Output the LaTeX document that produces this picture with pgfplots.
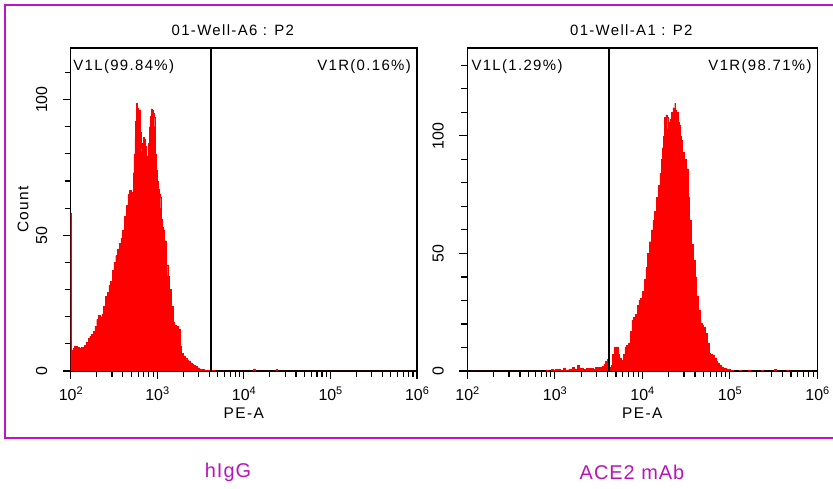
\documentclass[border=0pt]{standalone}
\usepackage{fontspec}
\setmainfont{Liberation Sans}
\newfontfamily\spaced[LetterSpace=9]{Liberation Sans}
\usepackage{pgfplots}
\pgfplotsset{compat=1.18}
\definecolor{mag}{RGB}{190,20,195}
\definecolor{magtext}{RGB}{185,20,185}
\newcommand\tp[1]{10\raisebox{6bp}{\fontsize{11}{11}\selectfont #1}}
\pgfplotsset{flowax/.style={
  scale only axis, height=323bp,
  xmin=2, xmax=6, ymin=0,
  axis line style={line width=1.5pt},
  xtick={2,3,4,5,6},
  xticklabels={\tp{2},\tp{3},\tp{4},\tp{5},\tp{6}},
  minor xtick={2.301,2.477,2.602,2.699,2.778,2.845,2.903,2.954,
               3.301,3.477,3.602,3.699,3.778,3.845,3.903,3.954,
               4.301,4.477,4.602,4.699,4.778,4.845,4.903,4.954,
               5.301,5.477,5.602,5.699,5.778,5.845,5.903,5.954},
  ytick={0,50,100}, yticklabels={0,50,100},
  xtick pos=bottom, ytick pos=left,
  tick align=outside,
  major tick length=8bp, minor tick length=6bp,
  every tick/.style={black, line width=1.1pt},
  tick label style={font=\fontsize{16}{16}\selectfont},
  xticklabel style={anchor=north, yshift=-4bp},
  yticklabel style={rotate=90, anchor=south, yshift=12bp},
  title style={at={(rel axis cs:0.5,1)}, anchor=base, yshift=6.5bp, xshift=-11bp,
    font=\fontsize{15}{15}\selectfont\spaced},
  xlabel={PE-A},
  xlabel style={at={(rel axis cs:0.5,0)}, anchor=center, yshift=-42bp,
    font=\fontsize{15.5}{15.5}\selectfont\spaced},
  clip=true,
}}
\begin{document}
\begin{tikzpicture}
\path[use as bounding box] (0,0) rectangle (833bp,489bp);
\draw[mag, line width=2bp] (4.5bp,51bp) rectangle (850bp,484bp);
\node[magtext, font=\fontsize{20}{20}\selectfont\addfontfeature{LetterSpace=5}] at (228bp,17bp) {hIgG};
\node[magtext, font=\fontsize{20}{20}\selectfont\addfontfeature{LetterSpace=5}] at (632bp,17bp) {ACE2 mAb};

\begin{axis}[flowax, at={(70.7bp,118bp)}, anchor=south west, width=346.3bp,
  ymax=119, minor ytick={10,20,30,40,60,70,80,90,110},
  title={01-Well-A6 : P2},
  ylabel={Count},
  ylabel style={at={(rel axis cs:0,0.5)}, anchor=center, yshift=47.7bp,
    font=\fontsize{15.5}{15.5}\selectfont\spaced}]
\addplot[const plot, fill=red, draw=red, line width=0.3pt] coordinates {
(2.000,58) (2.008,6.5) (2.02,7.5) (2.03,8.5) (2.04,9) (2.06,9.2) (2.08,8.8) (2.10,8.4)
(2.12,8.7) (2.14,8.2) (2.16,9.5) (2.18,10.5) (2.20,12) (2.22,12.8) (2.24,13.5) (2.26,14.5)
(2.28,16.5) (2.30,19) (2.32,20.5) (2.34,20) (2.36,21) (2.38,24) (2.40,27.5) (2.42,29)
(2.44,31.5) (2.46,33) (2.48,37) (2.50,40) (2.52,42.5) (2.54,45) (2.56,47) (2.58,49)
(2.60,52) (2.62,57) (2.64,61) (2.66,65) (2.68,66.5) (2.70,66) (2.72,73) (2.73,80)
(2.74,86) (2.75,92) (2.76,98.5) (2.77,97) (2.78,95) (2.79,96) (2.80,88) (2.81,82)
(2.82,81) (2.83,84) (2.84,86) (2.85,85.5) (2.86,83) (2.87,79) (2.88,77.5) (2.89,80)
(2.90,84) (2.91,90) (2.92,94) (2.93,96.6) (2.94,96) (2.95,95) (2.96,93.5) (2.97,90)
(2.98,80) (2.99,74) (3.00,70) (3.01,67) (3.02,65) (3.03,64) (3.04,60) (3.05,56)
(3.06,53) (3.07,52) (3.08,48) (3.10,39) (3.12,35) (3.14,30) (3.16,24) (3.18,18)
(3.20,17) (3.22,16.5) (3.24,15.5) (3.26,9) (3.28,6.5) (3.30,5.5) (3.32,4.6) (3.34,4)
(3.36,3.5) (3.38,3) (3.40,2.4) (3.42,2) (3.44,1.7) (3.46,1.2) (3.48,0.8) (3.50,0.7)
(3.52,0.5) (3.54,0.4) (3.56,0.3) (3.58,0.4) (3.60,0.3) (3.62,0.2) (3.66,0.1) (3.70,0)
(4.10,0) (4.11,0.8) (4.13,0) (4.36,0) (4.37,0.6) (4.39,0) (6,0)
} \closedcycle;
\addplot[black, line width=1.5pt] coordinates {(3.62,0) (3.62,119)};
\node[anchor=base west, inner sep=0pt, font=\fontsize{15}{15}\selectfont\spaced]
  at (rel axis cs:0,1) [xshift=2.5bp, yshift=-23bp] {V1L(99.84\%)};
\node[anchor=base east, inner sep=0pt, font=\fontsize{15}{15}\selectfont\spaced]
  at (rel axis cs:1,1) [xshift=-6bp, yshift=-23bp] {V1R(0.16\%)};
\end{axis}

\begin{axis}[flowax, at={(467.3bp,118bp)}, anchor=south west, width=350bp,
  ymax=137.4, minor ytick={10,20,30,40,60,70,80,90,110,120,130},
  title={01-Well-A1 : P2}]
\addplot[const plot, fill=red, draw=red, line width=0.3pt] coordinates {
(2.00,0) (2.88,0) (2.90,0.5) (2.92,0) (2.96,0.8) (2.98,0.3) (3.00,0.6) (3.04,0.9)
(3.06,0.4) (3.10,1.3) (3.12,0.5) (3.16,0.9) (3.20,1.5) (3.22,0.6) (3.26,2.5) (3.28,1)
(3.32,0.8) (3.36,1.2) (3.40,0.8) (3.42,1.2) (3.44,0.8) (3.46,1.5) (3.48,1.2) (3.50,1.6)
(3.52,1.8) (3.54,2.0) (3.56,3.0) (3.58,4.0) (3.60,5.0) (3.62,1.5) (3.64,2.5) (3.66,7)
(3.68,10) (3.70,10.3) (3.72,7) (3.74,5.5) (3.76,4.5) (3.78,7) (3.80,10) (3.82,11)
(3.84,12) (3.86,17) (3.88,21.7) (3.90,23) (3.92,24) (3.94,28) (3.96,30) (3.98,31)
(4.00,34) (4.02,39) (4.04,44) (4.06,50) (4.08,55) (4.10,60) (4.12,64) (4.14,68)
(4.16,74) (4.18,79) (4.20,84) (4.22,90) (4.23,95) (4.24,100) (4.25,108) (4.26,106)
(4.27,109) (4.28,108) (4.29,103) (4.30,106) (4.31,105) (4.32,107) (4.33,110) (4.34,109)
(4.35,112) (4.36,110) (4.37,114) (4.38,111) (4.39,108) (4.40,110) (4.41,106) (4.42,104.7)
(4.43,100) (4.44,98) (4.46,93) (4.48,90) (4.50,86) (4.52,74) (4.54,64) (4.56,54)
(4.58,47) (4.60,40) (4.62,32) (4.64,26) (4.66,20.3) (4.68,19.5) (4.70,18.5) (4.72,16)
(4.74,12) (4.76,7.5) (4.78,7.2) (4.80,6.8) (4.82,5.5) (4.84,4.2) (4.86,3.5) (4.88,2.6)
(4.90,1.8) (4.92,1.3) (4.94,1.0) (4.96,0.8) (4.98,0.7) (5.00,0.5) (5.02,0.4) (5.04,0)
(5.10,0) (5.11,0.4) (5.13,0) (5.20,0) (5.21,0.5) (5.23,0) (5.35,0) (5.36,0.4)
(5.38,0) (5.50,0) (5.51,0.6) (5.53,0) (5.64,0) (5.65,0.5) (5.67,0) (6,0)
} \closedcycle;
\addplot[black, line width=1.5pt] coordinates {(3.62,0) (3.62,137.4)};
\node[anchor=base west, inner sep=0pt, font=\fontsize{15}{15}\selectfont\spaced]
  at (rel axis cs:0,1) [xshift=4bp, yshift=-23bp] {V1L(1.29\%)};
\node[anchor=base east, inner sep=0pt, font=\fontsize{15}{15}\selectfont\spaced]
  at (rel axis cs:1,1) [xshift=-5.5bp, yshift=-23bp] {V1R(98.71\%)};
\end{axis}
\end{tikzpicture}
\end{document}
